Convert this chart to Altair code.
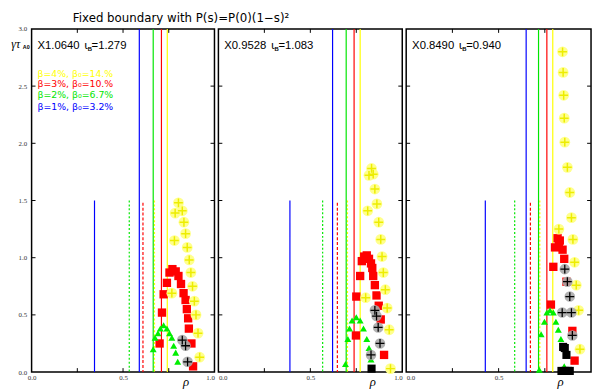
import altair as alt
import pandas as pd

TITLE = "Fixed boundary with P(s)=P(0)(1\u2212s)\u00b2"
PANEL_X = ["X1.0640", "X0.9528", "X0.8490"]
PANEL_IOTA = ["=1.279", "=1.083", "=0.940"]
LEGEND = ["\u03b2=4%, \u03b2\u2080=14.%", "\u03b2=3%, \u03b2\u2080=10.%",
          "\u03b2=2%, \u03b2\u2080=6.7%", "\u03b2=1%, \u03b2\u2080=3.2%"]

Y_LABELS = [0.0, 0.5, 1.0, 1.5, 2.0, 2.5, 3.0]
Y_TICKS = [0.5, 1.0, 1.5, 2.0, 2.5]
X_TICKS = [0.25, 0.5, 0.75]
X_LABELS = [[0.0, 0.5, 1.0], [0.0, 0.5, 1.0], [0.0, 0.5]]

# vertical marker lines, one value per panel
FULL_BLUE = [0.589, 0.621, 0.649]
FULL_GREEN = [0.665, 0.695, 0.716]
FULL_RED = [0.710, 0.738, 0.761]
FULL_YELLOW = [0.742, 0.771, 0.793]
SHORT_BLUE = [0.344, 0.389, 0.428]
SHORT_GREEN = [0.534, 0.567, 0.587]
SHORT_RED = [0.609, 0.647, 0.672]
SHORT_YELLOW = [0.672, 0.702, 0.723]
SHORT_TOP = 1.5
SHORT_RED_TOP = 1.48

# points (rho, gamma*tau_A0)
P1_YELLOW = [(0.803, 1.48), (0.785, 1.39), (0.824, 1.41), (0.833, 1.31), (0.842, 1.21),
             (0.781, 1.15), (0.851, 1.09), (0.862, 0.98), (0.871, 0.87), (0.880, 0.75),
             (0.767, 0.69), (0.890, 0.62), (0.899, 0.50), (0.910, 0.34), (0.919, 0.13)]
P1_RED = [(0.740, 0.78), (0.754, 0.87), (0.770, 0.90), (0.788, 0.88), (0.803, 0.84),
          (0.817, 0.77), (0.831, 0.69), (0.842, 0.63), (0.849, 0.55), (0.856, 0.47),
          (0.860, 0.38), (0.874, 0.25), (0.883, 0.05), (0.722, 0.68), (0.713, 0.52),
          (0.700, 0.25)]
P1_GREEN = [(0.722, 0.41), (0.704, 0.38), (0.740, 0.38), (0.691, 0.34), (0.754, 0.34),
            (0.675, 0.30), (0.767, 0.30), (0.665, 0.20), (0.777, 0.23), (0.788, 0.17),
            (0.799, 0.09)]
P1_GRAY = [(0.824, 0.28), (0.842, 0.23), (0.853, 0.09)]
P1_BLACK = []

P2_YELLOW = [(0.833, 1.78), (0.819, 1.72), (0.842, 1.73), (0.851, 1.60), (0.862, 1.47),
             (0.812, 1.41), (0.872, 1.31), (0.883, 1.16), (0.890, 1.01), (0.897, 0.87),
             (0.908, 0.72), (0.801, 0.65), (0.918, 0.56), (0.929, 0.37), (0.936, 0.03)]
P2_RED = [(0.780, 0.97), (0.793, 1.01), (0.807, 1.02), (0.819, 0.99), (0.830, 0.95),
          (0.837, 0.91), (0.842, 0.84), (0.851, 0.76), (0.860, 0.67), (0.872, 0.58),
          (0.883, 0.46), (0.901, 0.15), (0.771, 0.84), (0.750, 0.66), (0.748, 0.32)]
P2_GREEN = [(0.750, 0.48), (0.727, 0.45), (0.771, 0.45), (0.713, 0.38), (0.789, 0.38),
            (0.704, 0.29), (0.807, 0.29), (0.819, 0.21), (0.691, 0.07), (0.830, 0.11)]
P2_GRAY = [(0.851, 0.54), (0.860, 0.49), (0.869, 0.39), (0.879, 0.25), (0.830, 0.15)]
P2_BLACK = [(0.833, 0.03)]

P3_YELLOW = [(0.846, 2.80), (0.849, 2.62), (0.852, 2.42), (0.855, 2.22), (0.858, 2.01),
             (0.872, 1.79), (0.885, 1.57), (0.894, 1.35), (0.826, 1.25), (0.902, 1.16),
             (0.911, 0.96), (0.920, 0.76), (0.933, 0.54), (0.940, 0.20)]
P3_RED = [(0.819, 1.17), (0.831, 1.15), (0.805, 1.09), (0.826, 1.11), (0.846, 1.07),
          (0.855, 0.99), (0.796, 0.92), (0.867, 0.79), (0.783, 0.59), (0.899, 0.36),
          (0.911, 0.10)]
P3_GREEN = [(0.778, 0.54), (0.761, 0.52), (0.796, 0.52), (0.748, 0.44), (0.810, 0.44),
            (0.730, 0.33), (0.823, 0.37), (0.837, 0.29), (0.720, 0.02), (0.855, 0.05)]
P3_GRAY = [(0.858, 0.90), (0.872, 0.79), (0.885, 0.66), (0.844, 0.52), (0.894, 0.52),
           (0.899, 0.32)]
P3_BLACK = [(0.849, 0.22), (0.858, 0.21), (0.867, 0.15), (0.840, 0.01), (0.858, 0.01),
            (0.876, 0.01), (0.885, 0.01)]

PANELS = [
    dict(yellow=P1_YELLOW, red=P1_RED, green=P1_GREEN, gray=P1_GRAY, black=P1_BLACK),
    dict(yellow=P2_YELLOW, red=P2_RED, green=P2_GREEN, gray=P2_GRAY, black=P2_BLACK),
    dict(yellow=P3_YELLOW, red=P3_RED, green=P3_GREEN, gray=P3_GRAY, black=P3_BLACK),
]

WIDTHS = [186, 187, 188]
H = 349
BLUE, GREEN, RED, YELLOW = "#0000ff", "#00e600", "#ff0000", "#ffff00"
PLUS = "M-1,0L1,0M0,-1L0,1"
SERIF = "Liberation Serif"
SANS = "Liberation Sans"

xscale = alt.Scale(domain=[0, 1], nice=False, zero=False)
yscale = alt.Scale(domain=[0, 3], nice=False, zero=False)


def pts(lst):
    return pd.DataFrame({"rho": [p[0] for p in lst], "val": [p[1] for p in lst]})


def text(t, x, y, size, color="black", font=SANS, style="normal", weight="normal",
         align="left"):
    return alt.Chart(pd.DataFrame({"t": [t]})).mark_text(
        align=align, baseline="middle", fontSize=size, font=font, fontStyle=style,
        fontWeight=weight, color=color
    ).encode(x=alt.value(x), y=alt.value(y), text="t:N")


def panel(i):
    w = WIDTHS[i]
    if i == 0:
        lab_align = {"expr": "datum.value == 1 ? 'right' : 'center'"}
    else:
        lab_align = {"expr": "datum.value == 1 ? 'right' : (datum.value == 0 ? 'left' : 'center')"}
    xaxis = alt.Axis(values=X_LABELS[i], format=".1f", labelFont=SERIF, labelFontSize=7,
                     labelColor="#333333", ticks=False, domain=False, grid=False,
                     labelPadding=2, title=None, labelFlush=False, labelOverlap=False,
                     labelAlign=lab_align)
    if i == 0:
        yaxis = alt.Axis(values=Y_LABELS, format=".1f", labelFont=SERIF, labelFontSize=7,
                         labelColor="#333333", ticks=False, domain=False, grid=False,
                         labelPadding=5, title=None, labelFlush=False, labelOverlap=False)
    else:
        yaxis = None
    X = lambda f: alt.X(f, scale=xscale, axis=xaxis)
    Y = lambda f: alt.Y(f, scale=yscale, axis=yaxis)
    layers = []

    # short lines
    for arr, col, dash, top in [(SHORT_BLUE, BLUE, [1, 0], SHORT_TOP),
                                (SHORT_GREEN, GREEN, [2, 2], SHORT_TOP),
                                (SHORT_RED, RED, [3, 2], SHORT_RED_TOP),
                                (SHORT_YELLOW, YELLOW, [2, 2], SHORT_TOP)]:
        df = pd.DataFrame({"rho": [arr[i]], "top": [top], "bot": [0.0]})
        layers.append(alt.Chart(df).mark_rule(color=col, strokeWidth=1.2, strokeDash=dash)
                      .encode(x=X("rho:Q"), y=Y("top:Q"), y2="bot:Q"))
    # full lines
    for arr, col in [(FULL_BLUE, BLUE), (FULL_GREEN, GREEN), (FULL_RED, RED),
                     (FULL_YELLOW, YELLOW)]:
        df = pd.DataFrame({"rho": [arr[i]]})
        layers.append(alt.Chart(df).mark_rule(color=col, strokeWidth=1.2)
                      .encode(x=X("rho:Q"), y=alt.value(0), y2=alt.value(H)))

    # inward ticks
    yt = pd.DataFrame({"v": Y_TICKS})
    xt = pd.DataFrame({"u": X_TICKS})
    layers.append(alt.Chart(yt).mark_rule(color="black", strokeWidth=1)
                  .encode(y=Y("v:Q"), x=alt.value(0), x2=alt.value(4)))
    layers.append(alt.Chart(yt).mark_rule(color="black", strokeWidth=1)
                  .encode(y=Y("v:Q"), x=alt.value(w - 4), x2=alt.value(w)))
    layers.append(alt.Chart(xt).mark_rule(color="black", strokeWidth=1)
                  .encode(x=X("u:Q"), y=alt.value(0), y2=alt.value(4)))
    layers.append(alt.Chart(xt).mark_rule(color="black", strokeWidth=1)
                  .encode(x=X("u:Q"), y=alt.value(H - 4), y2=alt.value(H)))

    d = PANELS[i]
    enc = dict(x=X("rho:Q"), y=Y("val:Q"))
    layers.append(alt.Chart(pts(d["red"])).mark_point(
        shape="square", filled=True, color=RED, size=72, opacity=1).encode(**enc))
    layers.append(alt.Chart(pts(d["green"])).mark_point(
        shape="triangle-up", filled=True, color="#00ee00", size=50, opacity=1).encode(**enc))
    layers.append(alt.Chart(pts(d["yellow"])).mark_point(
        shape="circle", filled=True, color="#ffff8c", size=120, opacity=1).encode(**enc))
    layers.append(alt.Chart(pts(d["yellow"])).mark_point(
        shape=PLUS, filled=False, color="#eded00", size=80, strokeWidth=1.5,
        opacity=1).encode(**enc))
    if d["gray"]:
        layers.append(alt.Chart(pts(d["gray"])).mark_point(
            shape="circle", filled=True, color="#a8a8a8", size=115, opacity=0.9).encode(**enc))
        layers.append(alt.Chart(pts(d["gray"])).mark_point(
            shape=PLUS, filled=False, color="black", size=80, strokeWidth=1.3,
            opacity=1).encode(**enc))
    if d["black"]:
        layers.append(alt.Chart(pts(d["black"])).mark_point(
            shape="square", filled=True, color="black", size=68, opacity=1).encode(**enc))

    # annotations
    layers.append(text(PANEL_X[i], 6, 17, 11.5))
    layers.append(text("\u03b9", 53.5, 17, 11.5, font="DejaVu Sans"))
    layers.append(text("B", 57, 20, 6, weight="bold"))
    layers.append(text(PANEL_IOTA[i], 61, 17, 11.5))
    layers.append(text("\u03c1", 157, H + 10, 13, font=SERIF, style="italic",
                       align="center"))
    if i == 0:
        for t, col, y in zip(LEGEND, [YELLOW, RED, GREEN, BLUE], [45.5, 56.5, 67.5, 79]):
            layers.append(text(t, 6, y, 9.5, color=col, font="DejaVu Sans"))
        layers.append(text("\u03b3\u03c4", -20.7, 15, 12, font=SERIF, style="italic"))
        layers.append(text("A0", -9, 18, 5.5, weight="bold"))
        layers.append(text(TITLE, 152, -11, 12, font="DejaVu Sans", align="center"))

    return alt.layer(*layers).properties(width=w, height=H)


chart = alt.hconcat(panel(0), panel(1), panel(2), spacing=4, bounds="flush").properties(
    padding={"left": 2, "top": 0, "right": 0, "bottom": 0}
).configure_view(stroke="black", strokeWidth=1.5)

chart.save("out.html", embed_options={"renderer": "svg", "actions": False})
